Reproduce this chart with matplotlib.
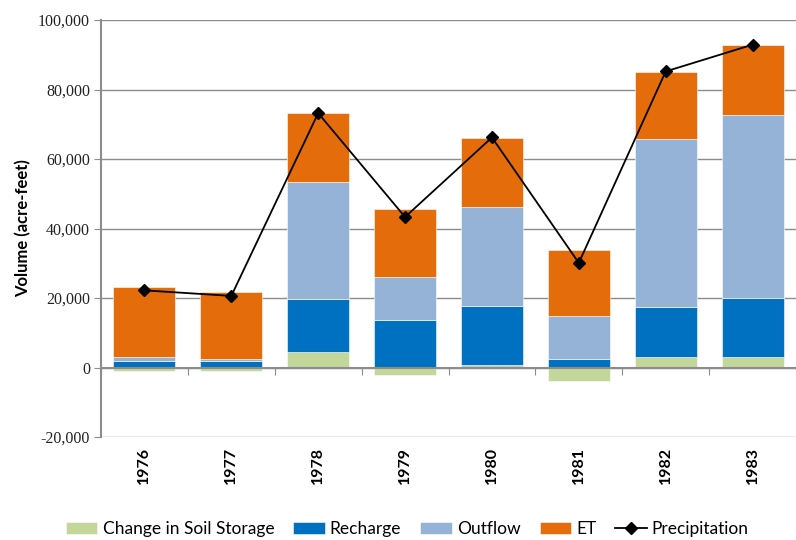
import numpy as np
import matplotlib
matplotlib.use('Agg')
import matplotlib.pyplot as plt
from matplotlib.ticker import FuncFormatter

years = ['1976', '1977', '1978', '1979', '1980', '1981', '1982', '1983']
soil = [-1000, -900, 4550, -2300, 700, -3800, 3000, 2900]
recharge = [2000, 2000, 15250, 13700, 17000, 2400, 14350, 17100]
outflow = [1000, 400, 33650, 12400, 28550, 12500, 48500, 52700]
et = [20200, 19200, 19700, 19500, 19900, 19000, 19300, 20200]
precip = [22200, 20600, 73200, 43300, 66200, 30100, 85200, 92900]

c_soil = '#C4D79B'
c_rech = '#0070C0'
c_out = '#95B3D7'
c_et = '#E46C0A'
grey = '#8C8C8C'

x = np.arange(len(years))
w = 0.714

fig = plt.figure(figsize=(7.96, 5.40), dpi=100)
ax = fig.add_axes([101 / 796, 1 - 437 / 540, (796 - 101) / 796, 417 / 540])

soil = np.array(soil)
rech = np.array(recharge)
outf = np.array(outflow)
etv = np.array(et)

ek = dict(edgecolor='white', linewidth=0.4, zorder=2)
ax.bar(x, soil, w, color=c_soil, label='Change in Soil Storage', **ek)
base = np.where(soil > 0, soil, 0)
ax.bar(x, rech, w, bottom=base, color=c_rech, label='Recharge', **ek)
base = base + rech
ax.bar(x, outf, w, bottom=base, color=c_out, label='Outflow', **ek)
base = base + outf
ax.bar(x, etv, w, bottom=base, color=c_et, label='ET', **ek)
ax.plot(x, precip, color='black', lw=1.3, marker='D', ms=5.8, label='Precipitation', zorder=4)

ax.set_xlim(-0.5, 7.415)
ax.set_ylim(-20000, 100000)
ax.set_yticks(np.arange(-20000, 100001, 20000))
ax.yaxis.set_major_formatter(FuncFormatter(lambda v, p: '{:,.0f}'.format(v)))
ax.tick_params(axis='y', direction='out', length=5, color=grey, labelsize=11.5, pad=3,
               labelcolor='#222222')
ax.grid(axis='y', color=grey, lw=1.0, zorder=0)
ax.set_axisbelow(True)

ax.spines['top'].set_visible(False)
ax.spines['right'].set_visible(False)
ax.spines['left'].set_color(grey)
ax.spines['left'].set_linewidth(1.5)
ax.spines['bottom'].set_position(('data', 0))
ax.spines['bottom'].set_color(grey)
ax.spines['bottom'].set_linewidth(1.5)

ax.set_xticks(np.arange(-0.5, 8, 1.0))
ax.set_xticklabels([])
ax.tick_params(axis='x', which='major', direction='out', length=5, color=grey)
ax.set_xticks(x, minor=True)
ax.set_xticklabels(years, minor=True, rotation=90, fontweight='bold', fontsize=11.5, family='Lato')
ax.tick_params(axis='x', which='minor', length=0, pad=57)

ax.set_ylabel('Volume (acre-feet)', fontsize=12, fontweight='bold', family='Lato', labelpad=5)

h, l = ax.get_legend_handles_labels()
order = [1, 2, 3, 4, 0]
ax.legend([h[i] for i in order], [l[i] for i in order], loc='center',
          bbox_to_anchor=(0.5 - 41 / 695, -92 / 417), ncol=5, frameon=False,
          prop={'family': 'Lato', 'size': 12.5}, handlelength=1.8, handleheight=0.63,
          columnspacing=1.1, handletextpad=0.3, borderpad=0, borderaxespad=0)

fig.canvas.draw()
for t in ax.get_yticklabels():
    t.set_fontfamily('Liberation Serif')

fig.savefig('out.png', dpi=100)
